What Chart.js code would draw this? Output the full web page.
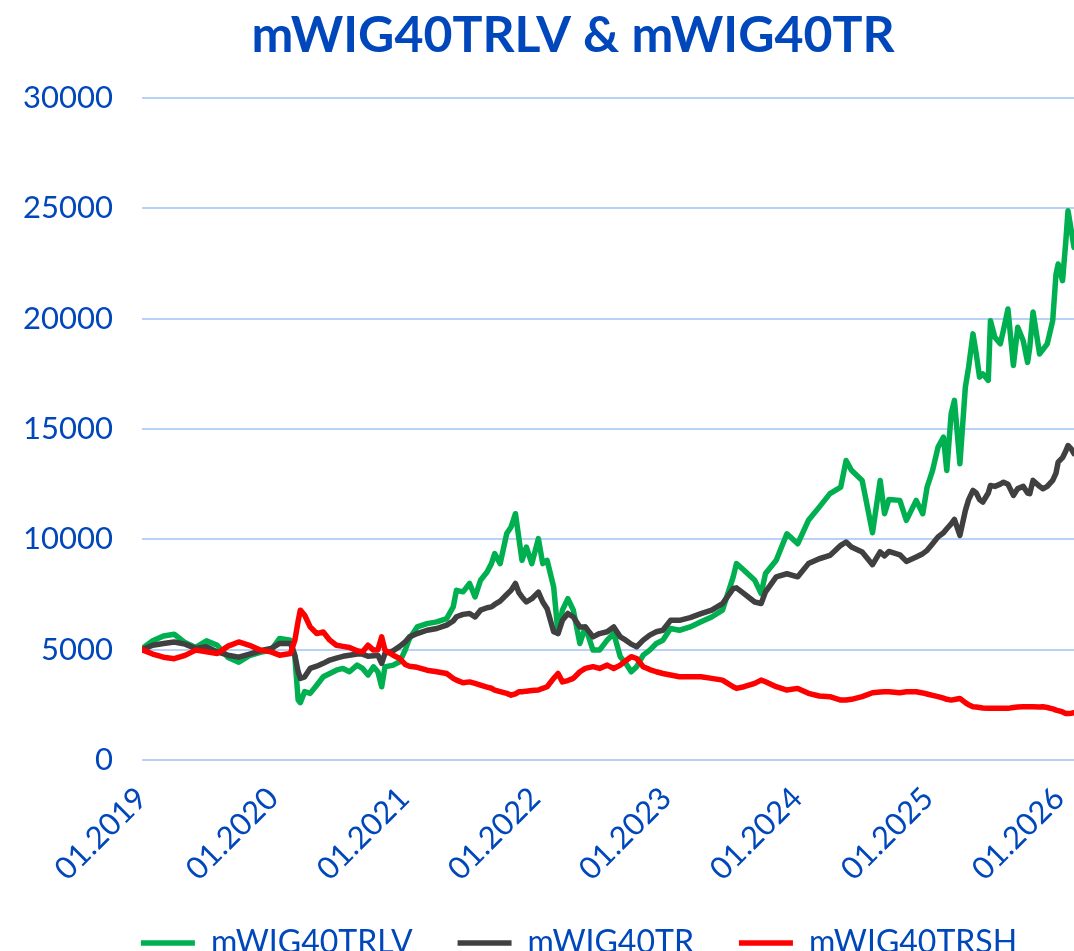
<!DOCTYPE html>
<html>
<head>
<meta charset="utf-8">
<script src="https://cdn.jsdelivr.net/npm/chart.js@4/dist/chart.umd.min.js"></script>
<style>
  html, body { margin: 0; padding: 0; background: #fff; overflow: hidden; }
  #wrap { position: relative; width: 1074px; height: 969px; }
</style>
</head>
<body>
<div id="wrap"><canvas id="chart"></canvas></div>
<script>
// months since 01.2019
const months = [0,0.98,1.97,2.95,3.94,4.92,5.91,6.89,7.88,8.86,9.84,10.83,11.81,
    12.6,13.6,14.0,14.3,14.5,14.9,15.4,16.0,16.6,17.2,17.8,18.4,19.0,19.7,20.2,20.7,21.2,21.6,21.95,22.25,23.0,23.6,24.1,24.5,25.2,26.1,27.0,27.9,28.5,28.8,29.4,
    30.0,30.5,31.0,31.6,32.0,32.3,32.8,33.4,33.8,34.2,34.5,34.8,35.2,35.7,36.3,36.7,37.1,37.7,38.1,38.5,39.0,39.5,40.1,40.6,41.3,41.9,42.6,43.2,43.8,44.3,44.8,45.3,45.9,46.5,47.1,47.7,48.4,
    49.22,50.20,51.19,52.17,53.16,54.14,54.44,55.13,56.11,56.70,57.10,58.08,59.06,60.05,61.03,62.02,63.00,63.99,64.48,64.97,65.95,
    66.9,67.6,68.0,68.4,69.4,70.0,70.9,71.5,71.9,72.4,72.9,73.4,73.7,74.1,74.4,74.9,75.4,75.7,76.1,76.4,76.7,77.0,77.5,77.7,78.1,78.6,78.9,79.3,79.8,80.2,80.7,81.1,81.3,81.6,82.2,82.5,82.9,83.4,83.7,83.9,84.3,84.6,84.8,85.1,85.35];

const mWIG40TRLV = [5050,5400,5620,5700,5320,5100,5400,5200,4650,4430,4730,4880,4970,
    5510,5430,4680,2720,2600,3100,3020,3390,3770,3920,4070,4150,4000,4300,4150,3850,4220,4000,3320,4220,4300,4450,4980,5510,6030,6180,6260,6410,6940,7690,7620,
    8000,7390,8145,8520,8900,9350,8900,10260,10560,11160,10100,9050,9650,8900,10030,8900,9050,7840,5730,6790,7310,6790,5280,6030,4980,4980,5430,5730,4680,4380,4000,4230,4750,4980,5280,5430,5960,
    5880,6030,6260,6480,6790,8300,8900,8600,8150,7540,8450,9050,10250,9800,10860,11460,12070,12370,13570,13130,12670,
    10300,12670,11160,11810,11765,10860,11765,11160,12370,13120,14180,14630,13120,15690,16300,13420,16890,17800,19310,18400,17350,17500,17200,19910,19160,18860,19500,20440,17880,19610,19000,18020,18700,20300,18400,18600,18860,19910,22000,22480,21720,23500,24890,24000,23230];

const mWIG40TR = [5000,5200,5280,5350,5250,5050,5130,4900,4750,4660,4800,4950,5050,
    5280,5280,4750,4000,3700,3770,4150,4250,4380,4530,4620,4700,4750,4800,4800,4700,4720,4750,4380,4830,4950,5150,5350,5580,5730,5880,5960,6110,6300,6490,6600,
    6640,6480,6790,6900,6940,7050,7200,7500,7690,8000,7600,7390,7160,7310,7610,7160,6850,5810,5730,6330,6640,6480,6030,6030,5580,5730,5810,6030,5580,5430,5250,5130,5430,5660,5810,5880,6330,
    6330,6450,6630,6790,7090,7770,7800,7540,7160,7090,7620,8300,8440,8300,8900,9120,9270,9730,9880,9650,9430,
    8850,9430,9250,9450,9300,9000,9200,9350,9500,9800,10110,10300,10480,10700,10900,10180,11300,11800,12215,12100,11800,11690,12100,12440,12400,12500,12590,12500,11990,12300,12400,12100,12070,12670,12400,12290,12400,12670,13000,13500,13700,14000,14250,14100,13880];

const mWIG40TRSH = [5000,4800,4660,4590,4740,4980,4900,4830,5160,5350,5200,4980,4900,
    4750,4830,5430,6300,6790,6560,6030,5730,5800,5430,5200,5150,5100,4950,4900,5200,4980,5000,5580,4980,4750,4600,4330,4250,4200,4070,4000,3920,3700,3620,3500,
    3540,3470,3390,3300,3250,3170,3100,3020,2940,3000,3090,3090,3120,3150,3170,3250,3320,3700,3920,3540,3600,3700,4000,4150,4230,4150,4300,4150,4300,4500,4680,4600,4230,4100,4000,3920,3850,
    3770,3770,3770,3700,3620,3320,3245,3320,3470,3620,3545,3320,3170,3245,3020,2900,2870,2715,2715,2750,2870,
    3050,3080,3090,3090,3050,3090,3090,3040,2990,2930,2870,2800,2750,2715,2740,2790,2600,2500,2410,2400,2380,2360,2340,2340,2340,2340,2340,2340,2380,2400,2410,2410,2410,2410,2400,2410,2380,2320,2260,2240,2180,2110,2110,2120,2140];

const tickMonths = [0,12,24,36,48,60,72,84];
const tickLabels = ['01.2019','01.2020','01.2021','01.2022','01.2023','01.2024','01.2025','01.2026'];

const BLUE = '#0047BB';

function pts(values) {
    return months.map((m, i) => ({ x: m, y: values[i] }));
}

// title and legend sit a bit right of the canvas centre, as in the original
const shiftBlocks = {
    id: 'shiftBlocks',
    afterLayout(chart) {
        chart.titleBlock.left = 72;
        chart.legend.left = 84;
    }
};

const ctx = document.getElementById('chart').getContext('2d');
new Chart(ctx, {
    type: 'line',
    data: {
        datasets: [
            { label: 'mWIG40TRLV', data: pts(mWIG40TRLV), borderColor: '#00B050', backgroundColor: '#00B050', borderWidth: 5.5, order: 2 },
            { label: 'mWIG40TR', data: pts(mWIG40TR), borderColor: '#404040', backgroundColor: '#404040', borderWidth: 5.5, order: 1 },
            { label: 'mWIG40TRSH', data: pts(mWIG40TRSH), borderColor: '#FF0000', backgroundColor: '#FF0000', borderWidth: 5.5, order: 0 }
        ]
    },
    plugins: [shiftBlocks],
    options: {
        responsive: true,
        maintainAspectRatio: false,
        animation: false,
        layout: { padding: 0 },
        elements: {
            point: { radius: 0 },
            line: { tension: 0, borderJoinStyle: 'round', borderCapStyle: 'round' }
        },
        scales: {
            x: {
                type: 'linear',
                min: 0,
                max: 85.35,
                grid: { display: false },
                border: { display: false },
                afterBuildTicks: axis => { axis.ticks = tickMonths.map(v => ({ value: v })); },
                afterFit: axis => {
                    axis.height = 122;
                    axis.paddingLeft = 0;
                    axis.paddingRight = 0;
                },
                ticks: {
                    autoSkip: false,
                    maxRotation: 45,
                    minRotation: 45,
                    padding: 12,
                    color: BLUE,
                    font: { family: 'Lato', size: 31 },
                    callback: value => tickLabels[tickMonths.indexOf(value)]
                }
            },
            y: {
                min: 0,
                max: 30000,
                afterFit: axis => { axis.width = 142; },
                grid: { color: '#B7D1F7', lineWidth: 2, drawTicks: false },
                border: { display: false },
                ticks: {
                    stepSize: 5000,
                    padding: 29,
                    color: BLUE,
                    font: { family: 'Lato', size: 31 },
                    callback: value => String(value)
                }
            }
        },
        plugins: {
            title: {
                display: true,
                text: 'mWIG40TRLV & mWIG40TR',
                color: BLUE,
                font: { family: 'Lato', size: 50, weight: 'bold' },
                padding: { top: 6, bottom: 32 }
            },
            legend: {
                position: 'bottom',
                labels: {
                    usePointStyle: true,
                    pointStyle: 'line',
                    pointStyleWidth: 54,
                    color: BLUE,
                    font: { family: 'Lato', size: 32 },
                    padding: 45,
                    sort: (a, b) => a.datasetIndex - b.datasetIndex
                }
            },
            tooltip: { enabled: false }
        }
    }
});
</script>
</body>
</html>
